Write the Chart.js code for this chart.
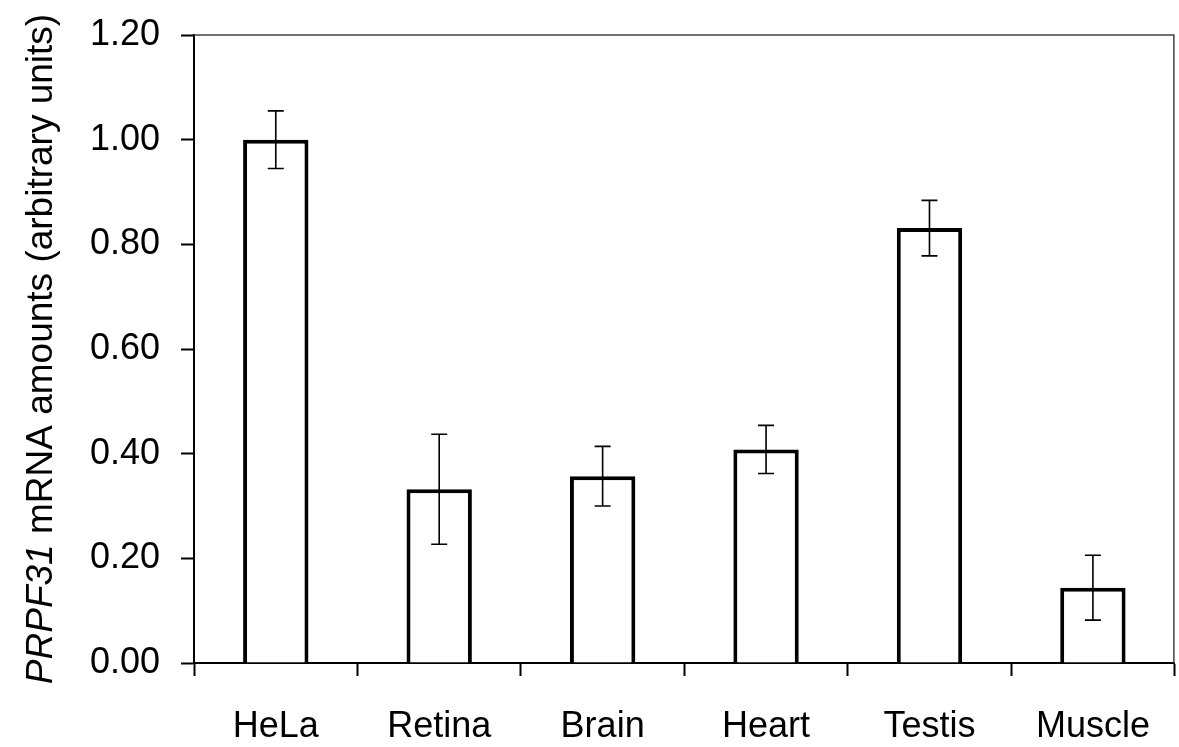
<!DOCTYPE html>
<html>
<head>
<meta charset="utf-8">
<script src="https://cdn.jsdelivr.net/npm/chart.js@4"></script>
<style>
  html, body { margin: 0; padding: 0; background: #fff; }
</style>
</head>
<body>
<canvas id="CHART" width="1179" height="747"></canvas>
<script>
// DATA

const tissues = ["HeLa", "Retina", "Brain", "Heart", "Testis", "Muscle"];
const amounts = [1.00, 0.332, 0.357, 0.408, 0.831, 0.144];
const errors = [0.055, 0.105, 0.057, 0.046, 0.053, 0.062];
const yTicks = [0, 0.2, 0.4, 0.6, 0.8, 1.0, 1.2];
const titleItalic = "PRPF31";
const titleRest = " mRNA amounts (arbitrary units)";

const FONT = "'Liberation Sans', Arial, sans-serif";

// error bars, drawn from the y scale
const errorBars = {
    id: "errorBars",
    afterDatasetsDraw(chart) {
        const ctx = chart.ctx;
        const y = chart.scales.y;
        const meta = chart.getDatasetMeta(0);
        ctx.save();
        ctx.strokeStyle = "#000";
        ctx.lineWidth = 1.6;
        meta.data.forEach((bar, i) => {
            const hi = y.getPixelForValue(amounts[i] + errors[i]);
            const lo = y.getPixelForValue(amounts[i] - errors[i]);
            ctx.beginPath();
            ctx.moveTo(bar.x, hi);
            ctx.lineTo(bar.x, lo);
            ctx.moveTo(bar.x - 8, hi);
            ctx.lineTo(bar.x + 8, hi);
            ctx.moveTo(bar.x - 8, lo);
            ctx.lineTo(bar.x + 8, lo);
            ctx.stroke();
        });
        ctx.restore();
    }
};

// grey frame on top and right of the plot area
const frame = {
    id: "frame",
    beforeDatasetsDraw(chart) {
        const a = chart.chartArea;
        const ctx = chart.ctx;
        ctx.save();
        ctx.strokeStyle = "#444";
        ctx.lineWidth = 1.5;
        ctx.beginPath();
        ctx.moveTo(a.left, a.top);
        ctx.lineTo(a.right - 0.75, a.top);
        ctx.lineTo(a.right - 0.75, a.bottom);
        ctx.stroke();
        ctx.restore();
    }
};

// y title with italic gene name
const yTitle = {
    id: "yTitle",
    afterDraw(chart) {
        const a = chart.chartArea;
        const ctx = chart.ctx;
        ctx.save();
        ctx.translate(42, (a.top + a.bottom) / 2);
        ctx.rotate(-Math.PI / 2);
        ctx.fillStyle = "#000";
        ctx.textBaseline = "middle";
        ctx.font = "italic 37px " + FONT;
        const w1 = ctx.measureText(titleItalic).width;
        ctx.font = "37px " + FONT;
        const w2 = ctx.measureText(titleRest).width;
        let x = -(w1 + w2) / 2;
        ctx.font = "italic 37px " + FONT;
        ctx.fillText(titleItalic, x, 0);
        ctx.font = "37px " + FONT;
        ctx.fillText(titleRest, x + w1, 0);
        ctx.restore();
    }
};

const chart = new Chart(document.getElementById("CHART"), {
    type: "bar",
    data: {
        labels: tissues,
        datasets: [{
            data: amounts,
            backgroundColor: "#fff",
            borderColor: "#000",
            borderWidth: 4,
            borderSkipped: "bottom",
            categoryPercentage: 1,
            barPercentage: 0.4,
        }],
    },
    options: {
        responsive: false,
        animation: false,
        layout: { padding: { left: 69, top: 35, right: 1, bottom: 0 } },
        plugins: {
            legend: { display: false },
            tooltip: { enabled: false },
        },
        scales: {
            x: {
                z: 1,
                afterFit: (s) => { s.height = 84; },
                grid: {
                    offset: true,
                    drawOnChartArea: false,
                    tickLength: 13,
                    tickColor: "#000",
                    tickWidth: 2,
                },
                border: { color: "#000", width: 2 },
                ticks: {
                    color: "#000",
                    padding: 29,
                    font: { family: FONT, size: 36 },
                },
            },
            y: {
                min: 0,
                max: 1.2,
                afterBuildTicks: (s) => { s.ticks = yTicks.map(v => ({ value: v })); },
                grid: {
                    drawOnChartArea: false,
                    tickLength: 13,
                    tickColor: "#000",
                    tickWidth: 2,
                },
                border: { color: "#000", width: 2 },
                ticks: {
                    color: "#000",
                    padding: 21,
                    font: { family: FONT, size: 36, lineHeight: 0.7 },
                    callback: (v) => Number(v).toFixed(2),
                },
            },
        },
    },
    plugins: [frame, errorBars, yTitle],
});
</script>
</body>
</html>
